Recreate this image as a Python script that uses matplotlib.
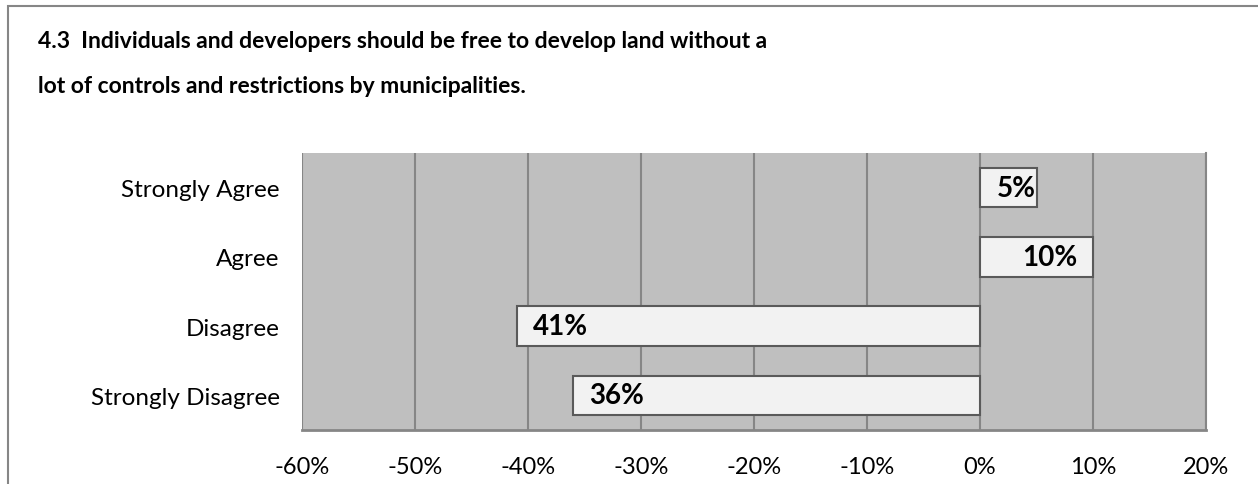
import matplotlib.pyplot as plt
from matplotlib.patches import Rectangle
from matplotlib.ticker import FuncFormatter

categories = ['Strongly Agree', 'Agree', 'Disagree', 'Strongly Disagree']
values = [5, 10, -41, -36]
labels = ['5%', '10%', '41%', '36%']
xticks = [-60, -50, -40, -30, -20, -10, 0, 10, 20]

title_lines = ['4.3  Individuals and developers should be free to develop land without a',
               'lot of controls and restrictions by municipalities.']

plt.rcParams['font.family'] = ['Lato', 'DejaVu Sans']

W, H = 1258, 485
fig = plt.figure(figsize=(W / 100, H / 100), dpi=100)
fig.patch.set_facecolor('white')

# plot area in pixels: left 302, right 1206, top 154, bottom 431
ax = fig.add_axes([302 / W, 1 - 431 / H, (1206 - 302) / W, (431 - 154) / H])
ax.set_facecolor('#BFBFBF')

y = list(range(len(categories)))
ax.barh(y, values, height=0.57, color='#F2F2F2', edgecolor='#5A5A5A',
        linewidth=1.5, zorder=3)

# labels sit at the inside end of each bar
for yi, v, lab in zip(y, values, labels):
    pad = 1.4 if abs(v) > 6 else 0.1
    if v >= 0:
        ax.text(v - pad, yi, lab, ha='right', va='center', fontsize=20,
                fontweight='bold', zorder=4)
    else:
        ax.text(v + pad, yi, lab, ha='left', va='center', fontsize=20,
                fontweight='bold', zorder=4)

ax.set_xlim(-60, 20)
ax.set_ylim(3.5, -0.5)
ax.set_xticks(xticks)
ax.xaxis.set_major_formatter(FuncFormatter(lambda v, p: f'{int(v)}%'))
ax.set_yticks(y)
ax.set_yticklabels(categories)
ax.tick_params(axis='x', length=0, pad=19, labelsize=17)
ax.tick_params(axis='y', length=0, pad=16, labelsize=17.5)

ax.grid(axis='x', color='#868686', linewidth=1.5, zorder=1)
ax.set_axisbelow(True)
for s in ['top', 'left']:
    ax.spines[s].set_visible(False)
ax.spines['right'].set_color('#868686')
ax.spines['right'].set_linewidth(1.5)
ax.spines['bottom'].set_color('#868686')
ax.spines['bottom'].set_linewidth(2)

for i, line in enumerate(title_lines):
    fig.text(38 / W, 1 - (48 + 45 * i) / H, line, ha='left', va='baseline',
             fontsize=16.5, fontweight='bold')

# chart border
fig.patches.append(Rectangle((8 / W, -0.1), 1.2, 1 - 7 / H + 0.1,
                             transform=fig.transFigure, fill=False,
                             edgecolor='#868686', linewidth=1.5))

plt.savefig('out.png', dpi=100)
